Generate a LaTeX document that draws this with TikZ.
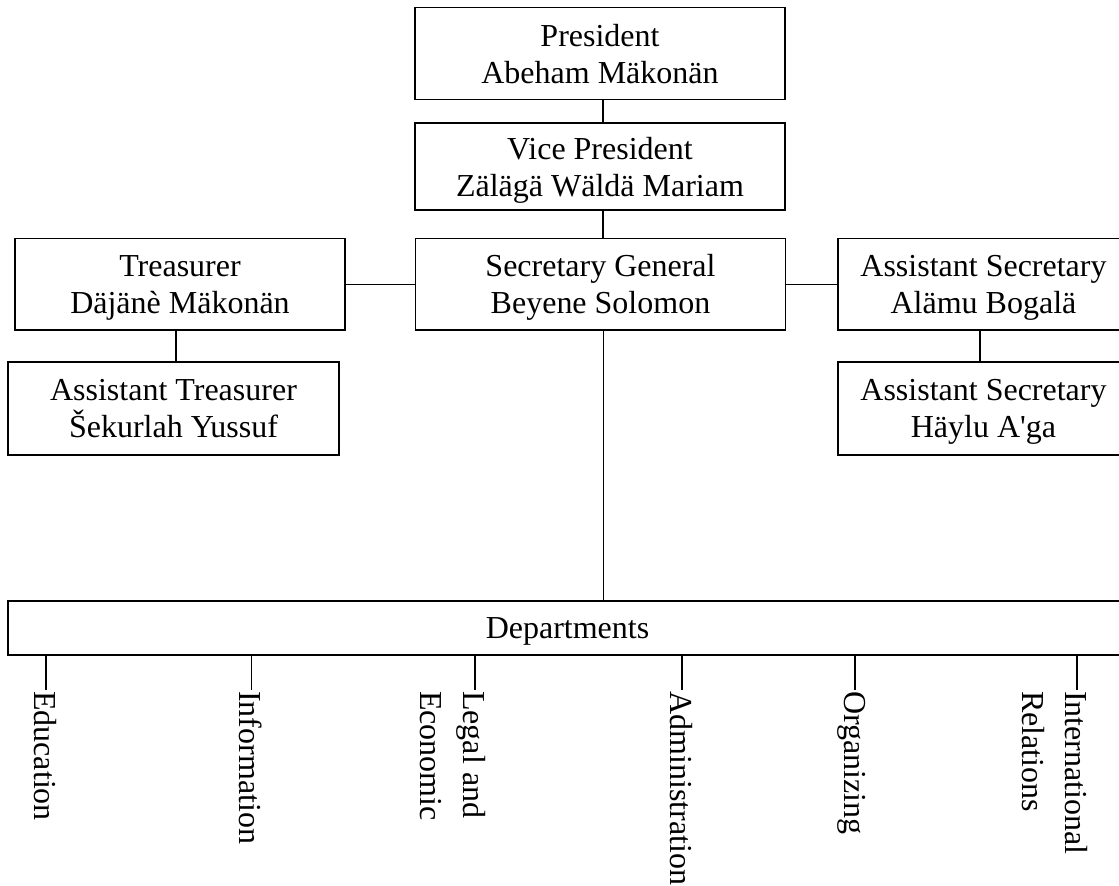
\documentclass[tikz,border=0pt]{standalone}
\usepackage{fontspec}
\setmainfont{Liberation Serif}
\begin{document}
\begin{tikzpicture}[x=1pt,y=-1pt,
  box/.style={draw, line width=1.8pt, inner sep=0pt, align=center,
    font=\fontsize{32}{37}\selectfont, text depth=0pt},
  lbl/.style={rotate=-90, anchor=north west, inner sep=0pt, align=left,
    font=\fontsize{32}{43}\selectfont},
  conn/.style={line width=1.5pt}]
\useasboundingbox (0,0) rectangle (1119,886);
\clip (0,0) rectangle (1119,886);

% boxes
\node[box, minimum width=370pt, minimum height=92pt] (pres) at (600,53.5) {President\\Abeham Mäkonän};
\node[box, minimum width=370pt, minimum height=87pt] (vice) at (600,166.5) {Vice President\\Zälägä Wäldä Mariam};
\node[box, minimum width=370pt, minimum height=91.5pt] (sec) at (600.5,284.25) {Secretary General\\Beyene Solomon};
\node[box, minimum width=330pt, minimum height=91.5pt] (treas) at (180,284.25) {Treasurer\\Däjänè Mäkonän};
\node[box, minimum width=331pt, minimum height=93pt] (atreas) at (173.5,408.5) {Assistant Treasurer\\Šekurlah Yussuf};
\node[box, minimum width=291pt, minimum height=91.5pt] (asec1) at (983.5,284.25) {Assistant Secretary\\Alämu Bogalä};
\node[box, minimum width=291pt, minimum height=93pt] (asec2) at (983.5,408.5) {Assistant Secretary\\Häylu A\textquotesingle ga};
\node[box, minimum width=1119pt, minimum height=54pt] (depts) at (567.5,628) {Departments};

% connectors
\draw[conn] ([xshift=3pt]pres.south) -- ([xshift=3pt]pres.south |- vice.north);
\draw[conn] ([xshift=3pt]vice.south) -- ([xshift=3pt]vice.south |- sec.north);
\draw[conn] (treas.east) -- (sec.west);
\draw[conn] (sec.east) -- (asec1.west);
\draw[conn] ([xshift=-4pt]treas.south) -- ([xshift=-4pt]treas.south |- atreas.north);
\draw[conn] ([xshift=-3.5pt]asec1.south) -- ([xshift=-3.5pt]asec1.south |- asec2.north);
\draw[conn] ([xshift=3pt]sec.south) -- ([xshift=3pt]sec.south |- depts.north);

% department ticks
\coordinate (tEdu) at (46,690);
\coordinate (tInf) at (251.5,690);
\coordinate (tLeg) at (475,690);
\coordinate (tAdm) at (682,690);
\coordinate (tOrg) at (855,690);
\coordinate (tInt) at (1077,690);
\foreach \t in {tEdu,tInf,tLeg,tAdm,tOrg,tInt}
  \draw[conn] (\t |- depts.south) -- (\t);

% department labels
\node[lbl] (lEdu) at ([xshift=10.8pt,yshift=-1pt]tEdu) {Education};
\node[lbl] (lInf) at ([xshift=10.8pt,yshift=-1pt]tInf) {Information};
\node[lbl] (lLeg) at ([xshift=10.8pt,yshift=-1pt]tLeg) {Legal and\\Economic};
\node[lbl] (lAdm) at ([xshift=10.8pt,yshift=-1pt]tAdm) {Administration};
\node[lbl] (lOrg) at ([xshift=10.8pt,yshift=-1pt]tOrg) {Organizing};
\node[lbl] (lInt) at ([xshift=10.8pt,yshift=-1pt]tInt) {International\\Relations};
\end{tikzpicture}
\end{document}
